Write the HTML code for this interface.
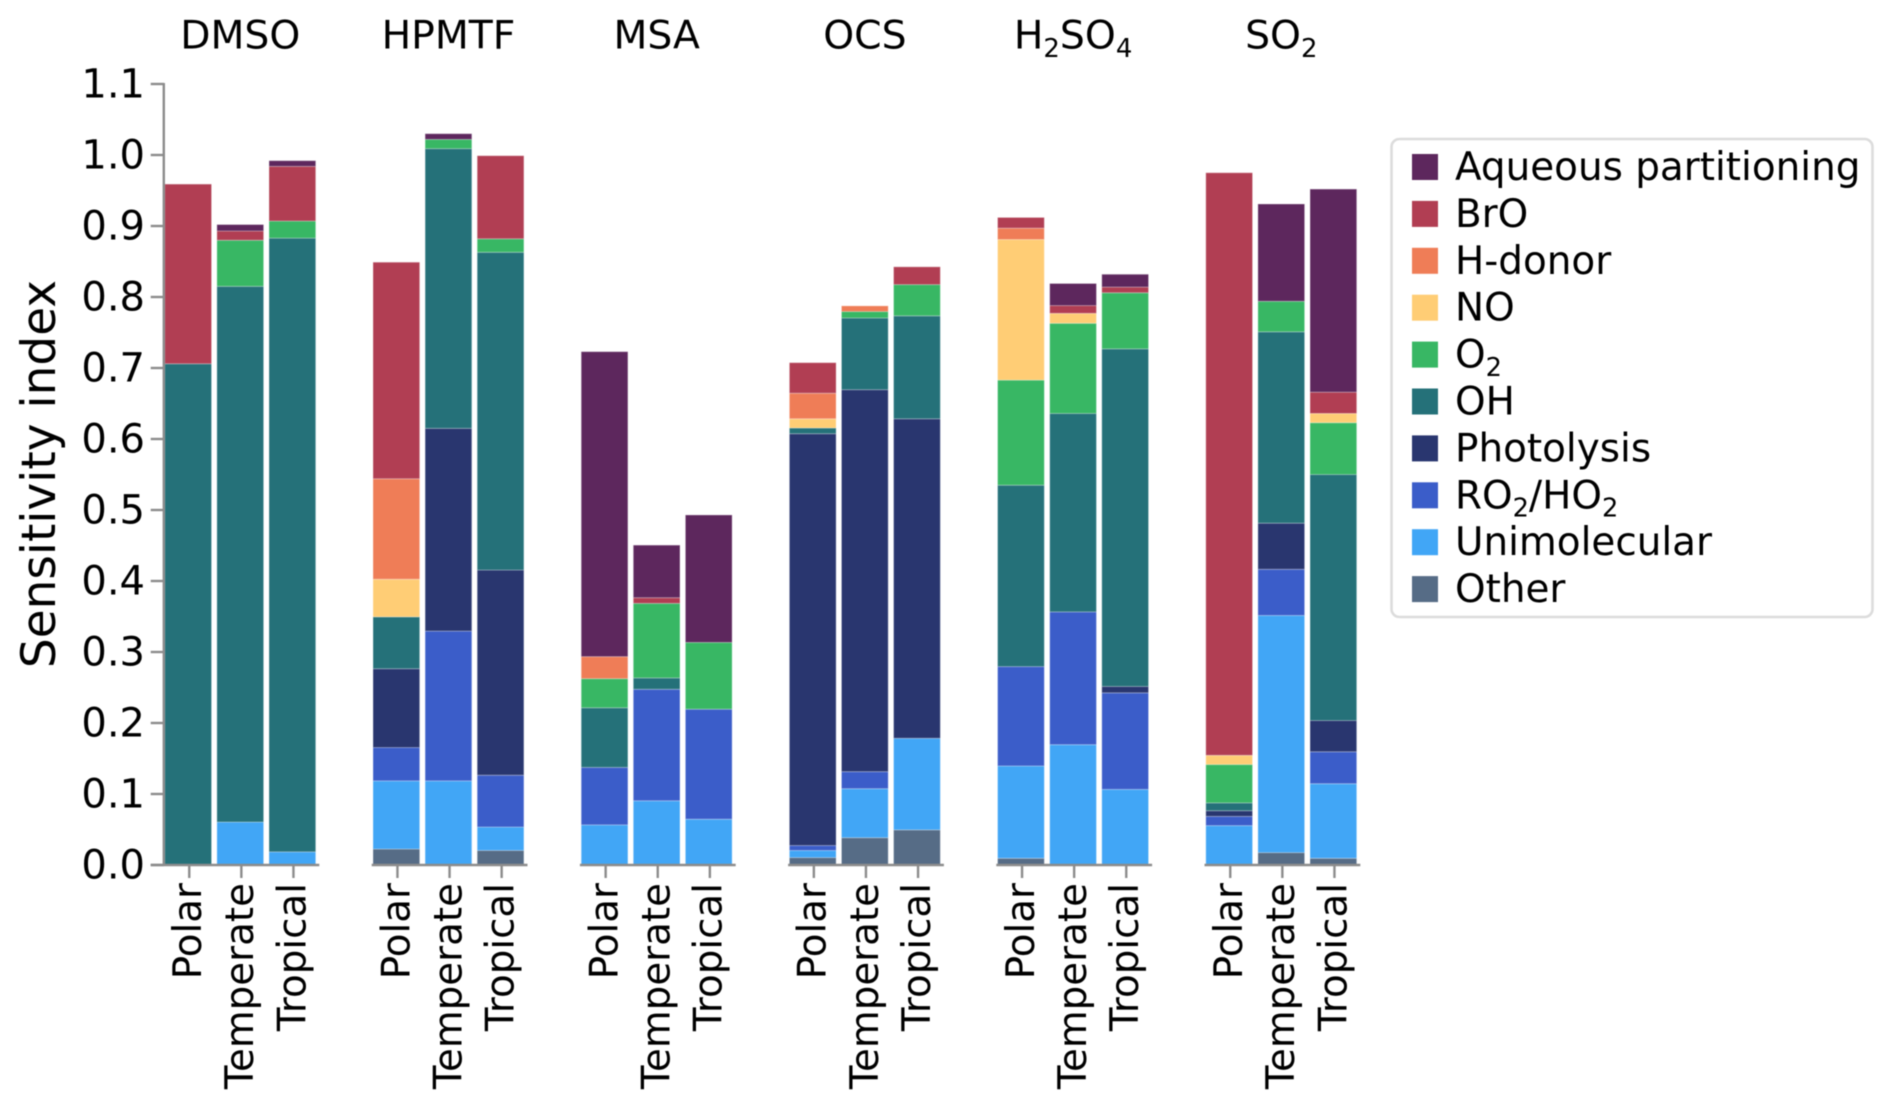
<!DOCTYPE html>
<html>
<head>
<meta charset="utf-8">
<title>Sensitivity index by regime</title>
<style>
html,body{margin:0;padding:0;background:#fff;width:1892px;height:1109px;overflow:hidden}
svg{display:block;font-family:"DejaVu Sans","Liberation Sans",sans-serif;fill:#000;filter:blur(0.4px)}
</style>
</head>
<body>
<svg id="chart" xmlns="http://www.w3.org/2000/svg" width="1892" height="1109" viewBox="0 0 1892 1109"></svg>
<script>
const groups = ["DMSO","HPMTF","MSA","OCS","H₂SO₄","SO₂"];
const regimes = ["Polar","Temperate","Tropical"];
const yTicks = [0,0.1,0.2,0.3,0.4,0.5,0.6,0.7,0.8,0.9,1.0,1.1];
const seriesNames = ["Aqueous partitioning","BrO","H-donor","NO","O₂","OH","Photolysis","RO₂/HO₂","Unimolecular","Other"];
const seriesColors = ["#5d275d","#b13e53","#ef7d57","#ffcd75","#38b764","#257179","#29366f","#3b5dc9","#41a6f6","#566c86"];
/* each array: DMSO P,T,Tr | HPMTF P,T,Tr | MSA P,T,Tr | OCS P,T,Tr | H2SO4 P,T,Tr | SO2 P,T,Tr */
const aqueous    = [0,.009,.008, 0,.008,0, .4295,.074,.1795, 0,0,0, 0,.031,.018, 0,.137,.286];
const bro        = [.253,.013,.077, .305,0,.117, 0,.008,0, .043,0,.025, .015,.011,.008, .8205,0,.030];
const hDonor     = [0,0,0, .1415,0,0, .031,0,0, .036,.008,0, .016,0,0, 0,0,0];
const no         = [0,0,0, .053,0,0, 0,0,0, .013,0,0, .198,.014,0, .013,0,.013];
const o2         = [0,.065,.024, 0,.013,.019, .041,.105,.094, 0,.009,.044, .148,.127,.079, .054,.043,.073];
const oh         = [.706,.7545,.8645, .073,.394,.4475, .084,.016,0, .008,.101,.145, .2555,.2795,.4755, .011,.2695,.3465];
const photolysis = [0,0,0, .111,.2855,.289, 0,0,0, .580,.538,.450, 0,0,.009, .008,.065,.044];
const ro2ho2     = [0,0,0, .047,.211,.073, .081,.157,.155, .007,.024,0, .140,.187,.136, .013,.065,.045];
const unimol     = [0,.0605,.0185, .096,.1185,.033, .0565,.0905,.0645, .010,.069,.129, .130,.1695,.1065, .0555,.334,.105];
const other      = [0,0,0, .0225,0,.0205, 0,0,0, .0105,.0385,.0495, .0095,0,0, 0,.0175,.0095];
const seriesValues = [aqueous,bro,hDonor,no,o2,oh,photolysis,ro2ho2,unimol,other];

const NS = "http://www.w3.org/2000/svg";
const svg = document.getElementById("chart");
const FONT = 38.8;
const AXIS = "#8c8c8c";
const Y0 = 865, Y1 = 84;
const yMax = yTicks[yTicks.length-1];
function yScale(v){ return Y0 - (Y0 - Y1) * v / yMax; }
function groupX(g){ return 164.8 + 208.2 * g; }
function barX(g, r){ return groupX(g) + 52.1 * r; }
const BAR_W = 46.7;
function slug(s){
  return s.replace(/₂/g,"2").replace(/₄/g,"4").toLowerCase().replace(/[^a-z0-9]+/g,"-");
}
function el(tag, attrs, parent){
  const n = document.createElementNS(NS, tag);
  for (const k in attrs) n.setAttribute(k, attrs[k]);
  (parent || svg).appendChild(n);
  return n;
}
/* writes a label as real text, turning subscript characters into lowered tspans */
function setLabel(textEl, str){
  const SUB = {"₂":"2","₄":"4"};
  const DROP = 8.4;
  let shifted = false;
  str.split(/([₂₄])/).forEach(function(part){
    if (!part) return;
    const isSub = part in SUB;
    const ts = el("tspan", {}, textEl);
    if (isSub){
      ts.setAttribute("font-size", "66%");
      ts.setAttribute("dy", DROP);
      ts.textContent = SUB[part];
      shifted = true;
    } else {
      if (shifted) ts.setAttribute("dy", -DROP);
      ts.textContent = part;
      shifted = false;
    }
  });
}

/* bars */
groups.forEach(function(gName, g){
  const gEl = el("g", {});
  
  
  regimes.forEach(function(rName, r){
    const idx = g * regimes.length + r;
    let base = 0;
    for (let s = seriesValues.length - 1; s >= 0; s--){
      const v = seriesValues[s][idx];
      if (v <= 0) continue;
      const top = base + v;
      const rect = el("rect", {
        x: barX(g, r),
        y: yScale(top),
        width: BAR_W,
        height: yScale(base) - yScale(top),
        fill: seriesColors[s],
        stroke: "rgba(255,255,255,.28)",
        "stroke-width": 1
      }, gEl);
      
      
      base = top;
    }
  });

  /* facet title */
  const title = el("text", {
    x: groupX(g) + 75.5, y: 48.5, "text-anchor": "middle", "font-size": 39.3
  }, gEl);
  setLabel(title, gName);
  
  

  /* x axis */
  const dom = el("line", {
    x1: g === 0 ? 150.7 : groupX(g) - 1.3, x2: groupX(g) + 154.5, y1: Y0, y2: Y0,
    stroke: AXIS, "stroke-width": 2.6
  }, gEl);
  
  

  regimes.forEach(function(rName, r){
    const cx = barX(g, r) + BAR_W / 2 + 1.1;
    const tick = el("line", {
      x1: cx, x2: cx, y1: Y0, y2: 878, stroke: AXIS, "stroke-width": 2.4
    }, gEl);
    
    
    const bx = cx + 11.8, by = 883;
    const lab = el("text", {
      x: bx, y: by, "text-anchor": "end", "font-size": FONT,
      transform: "rotate(-90 " + bx + " " + by + ")"
    }, gEl);
    lab.textContent = rName;
    
    
  });
});

/* y axis */
const yAxis = el("g", {});


const yLine = el("line", {
  x1: 163.8, x2: 163.8, y1: Y1 - 1, y2: Y0, stroke: AXIS, "stroke-width": 2.4
}, yAxis);


yTicks.forEach(function(t){
  const ty = yScale(t);
  const tick = el("line", {
    x1: 150.7, x2: 164, y1: ty, y2: ty, stroke: AXIS, "stroke-width": 2.4
  }, yAxis);
  
  
  const lab = el("text", {
    x: 145, y: ty + 13.5, "text-anchor": "end", "font-size": 40
  }, yAxis);
  lab.textContent = t.toFixed(1);
  
  
});
const yTitle = el("text", {
  x: 55, y: 474, "text-anchor": "middle", "font-size": 47,
  transform: "rotate(-90 55 474)"
});
yTitle.textContent = "Sensitivity index";



/* legend */
const legend = el("g", {});


const box = el("rect", {
  x: 1391.5, y: 139, width: 481, height: 478, rx: 8, ry: 8,
  fill: "#fff", stroke: "#dcdcdc", "stroke-width": 2.6
}, legend);


seriesNames.forEach(function(name, i){
  const by = 180 + 46.9 * i;
  const sw = el("rect", {
    x: 1412, y: by - 26, width: 26, height: 26, fill: seriesColors[i]
  }, legend);
  
  
  const t = el("text", { x: 1455, y: by, "font-size": 38.9 }, legend);
  setLabel(t, name);
  
  
});
</script>
</body>
</html>
